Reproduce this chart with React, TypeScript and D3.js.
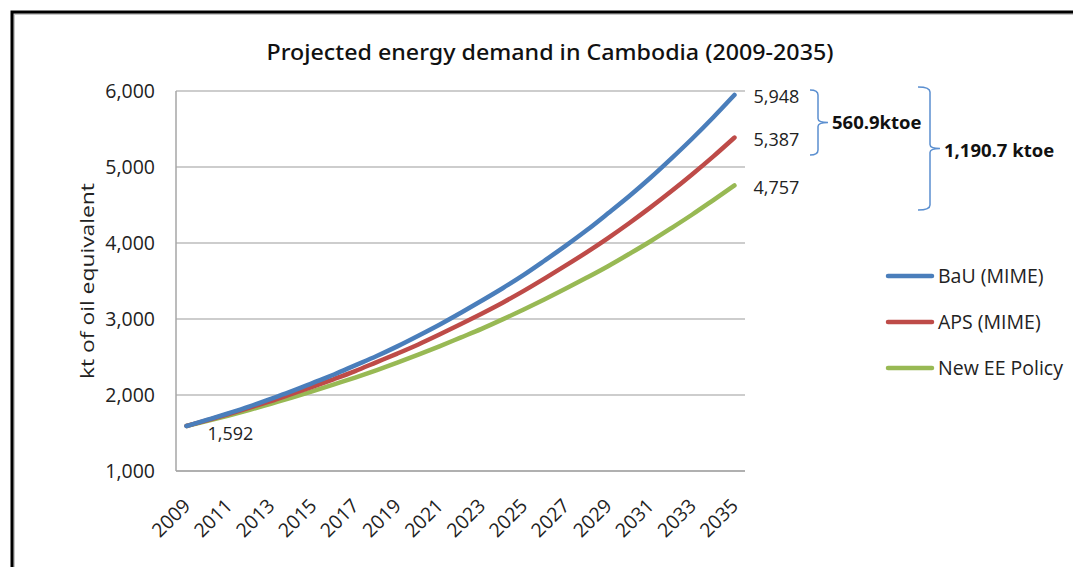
import * as d3 from "d3";
import { useEffect } from "react";

// values (kt of oil equivalent)
const years = [
  2009, 2010, 2011, 2012, 2013, 2014, 2015, 2016, 2017, 2018, 2019, 2020, 2021,
  2022, 2023, 2024, 2025, 2026, 2027, 2028, 2029, 2030, 2031, 2032, 2033, 2034,
  2035,
];
const bau = [
  1592, 1675, 1760, 1850, 1950, 2050, 2160, 2270, 2390, 2510, 2640, 2780, 2925,
  3080, 3240, 3405, 3580, 3770, 3965, 4170, 4390, 4615, 4855, 5110, 5375, 5655,
  5948,
];
const aps = [
  1592, 1670, 1750, 1835, 1920, 2015, 2110, 2210, 2315, 2430, 2545, 2665, 2795,
  2930, 3070, 3215, 3370, 3535, 3705, 3880, 4065, 4260, 4465, 4680, 4905, 5140,
  5387,
];
const eePolicy = [
  1592, 1660, 1730, 1805, 1885, 1965, 2050, 2140, 2230, 2325, 2425, 2530, 2640,
  2755, 2870, 2995, 3125, 3260, 3400, 3545, 3695, 3855, 4020, 4195, 4375, 4565,
  4757,
];
const yTicks = [1000, 2000, 3000, 4000, 5000, 6000];
const xTickYears = [
  2009, 2011, 2013, 2015, 2017, 2019, 2021, 2023, 2025, 2027, 2029, 2031, 2033,
  2035,
];
const gapLabels = ["560.9ktoe", "1,190.7 ktoe"];

const seriesList = [
  { name: "BaU (MIME)", values: bau, color: "#4A7EBB" },
  { name: "APS (MIME)", values: aps, color: "#BE4B48" },
  { name: "New EE Policy", values: eePolicy, color: "#98B954" },
];

const W = 1073,
  H = 567;
const plot = { left: 176, right: 745, top: 91, bottom: 471 };
const font = "'Open Sans', 'DejaVu Sans', sans-serif";
const fmt = d3.format(",");

export default function App() {
  useEffect(() => {
    document.body.style.margin = "0";
  }, []);

  const x = d3
    .scaleBand<number>()
    .domain(years)
    .range([plot.left, plot.right]);
  const xc = (yr: number) => (x(yr) as number) + x.bandwidth() / 2;
  const y = d3
    .scaleLinear()
    .domain([1000, 6000])
    .range([plot.bottom, plot.top]);

  const line = d3
    .line<number>()
    .x((_, i) => xc(years[i]))
    .y((v) => y(v))
    .curve(d3.curveMonotoneX);

  const lastX = xc(years[years.length - 1]);

  // brace like "}" with a point on its right side
  const brace = (x0: number, x1: number, y0: number, y1: number, tip: number) => {
    const ym = (y0 + y1) / 2;
    return `M${x0},${y0} Q${x1},${y0} ${x1},${y0 + 5} V${ym - 4} Q${x1},${ym} ${tip},${ym} Q${x1},${ym} ${x1},${ym + 4} V${y1 - 5} Q${x1},${y1} ${x0},${y1}`;
  };

  return (
    <svg width={W} height={H} style={{ display: "block", background: "#fff" }}>
      {/* outer frame */}
      <path d={`M14,${H} V14 H${W}`} fill="none" stroke="#c8c8c8" strokeWidth={2} />
      <path d={`M12,${H} V12 H${W}`} fill="none" stroke="#000" strokeWidth={3} />

      <text
        x={550}
        y={60}
        textAnchor="middle"
        fontFamily="'Noto Sans', 'Open Sans', sans-serif"
        fontSize={21}
        fontWeight={500}
        textLength={567}
        lengthAdjust="spacingAndGlyphs"
        fill="#111"
      >
        Projected energy demand in Cambodia (2009-2035)
      </text>

      {/* gridlines */}
      {yTicks.map((t) => (
        <line
          key={t}
          x1={plot.left}
          x2={plot.right}
          y1={y(t)}
          y2={y(t)}
          stroke="#BDBDBD"
          strokeWidth={1.5}
        />
      ))}
      <line x1={plot.left} x2={plot.left} y1={plot.top} y2={plot.bottom} stroke="#A6A6A6" strokeWidth={1.5} />
      <line x1={plot.left} x2={plot.right} y1={plot.bottom} y2={plot.bottom} stroke="#A6A6A6" strokeWidth={1.5} />

      {/* y axis labels */}
      {yTicks.map((t) => (
        <text
          key={t}
          x={155}
          y={y(t)}
          dy="0.36em"
          textAnchor="end"
          fontFamily={font}
          fontSize={19.5}
          fill="#222"
        >
          {fmt(t)}
        </text>
      ))}
      <text
        transform={`translate(94,${281}) rotate(-90)`}
        textAnchor="middle"
        fontFamily={font}
        fontSize={19}
        textLength={196}
        lengthAdjust="spacingAndGlyphs"
        fill="#222"
      >
        kt of oil equivalent
      </text>

      {/* x axis labels */}
      {xTickYears.map((yr) => (
        <text
          key={yr}
          transform={`translate(${xc(yr) + 5},${507}) rotate(-45)`}
          textAnchor="end"
          fontFamily={font}
          fontSize={19.5}
          fill="#222"
        >
          {yr}
        </text>
      ))}

      {/* series */}
      {[...seriesList].reverse().map((s) => (
        <path
          key={s.name}
          d={line(s.values) as string}
          fill="none"
          stroke={s.color}
          strokeWidth={4.5}
          strokeLinecap="round"
        />
      ))}

      {/* value labels */}
      {seriesList.map((s) => {
        const v = s.values[s.values.length - 1];
        return (
          <text
            key={s.name}
            x={lastX + 19}
            y={y(v) + 2}
            dy="0.36em"
            fontFamily={font}
            fontSize={18}
            fill="#222"
          >
            {fmt(v)}
          </text>
        );
      })}
      <text x={xc(years[0]) + 21} y={y(bau[0]) + 8} dy="0.36em" fontFamily={font} fontSize={18} fill="#222">
        {fmt(bau[0])}
      </text>

      {/* braces */}
      <path d={brace(810, 818, 90, 155, 828)} fill="none" stroke="#5B8FD0" strokeWidth={1.5} />
      <text x={832} y={122} dy="0.36em" fontFamily={font} fontSize={18.5} fontWeight={700} fill="#111">
        {gapLabels[0]}
      </text>
      <path d={brace(918, 930, 87, 210, 940)} fill="none" stroke="#5B8FD0" strokeWidth={1.5} />
      <text x={944} y={150} dy="0.36em" fontFamily={font} fontSize={18.5} fontWeight={700} fill="#111">
        {gapLabels[1]}
      </text>

      {/* legend */}
      {seriesList.map((s, i) => {
        const ly = 276 + i * 46;
        return (
          <g key={s.name}>
            <line x1={888} x2={932} y1={ly} y2={ly} stroke={s.color} strokeWidth={4.5} strokeLinecap="round" />
            <text x={938} y={ly} dy="0.36em" fontFamily={font} fontSize={19.5} fill="#222">
              {s.name}
            </text>
          </g>
        );
      })}
    </svg>
  );
}
